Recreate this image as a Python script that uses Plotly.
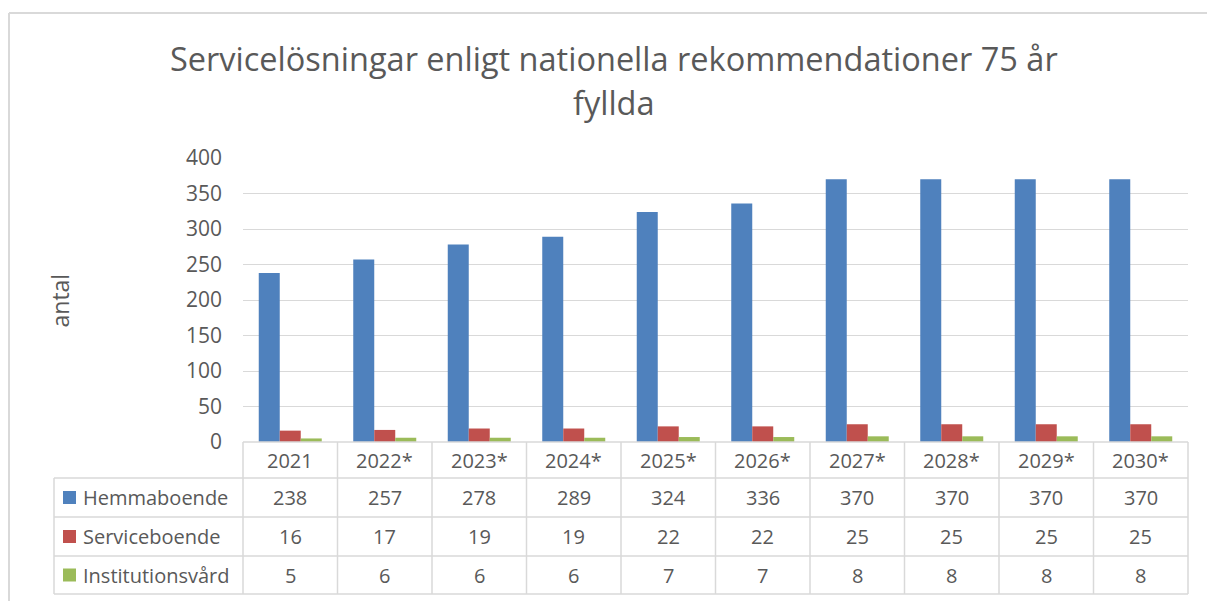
import plotly.graph_objects as go

years = ["2021", "2022*", "2023*", "2024*", "2025*", "2026*", "2027*", "2028*", "2029*", "2030*"]
series_names = ["Hemmaboende", "Serviceboende", "Institutionsvård"]
hemmaboende = [238, 257, 278, 289, 324, 336, 370, 370, 370, 370]
serviceboende = [16, 17, 19, 19, 22, 22, 25, 25, 25, 25]
institutionsvard = [5, 6, 6, 6, 7, 7, 8, 8, 8, 8]
colors = ["#4F81BD", "#C0504D", "#9BBB59"]

title_line1 = "Servicelösningar enligt nationella rekommendationer 75 år"
title_line2 = "fyllda"
y_title = "antal"

W, H = 1207, 601
L, R, T, B = 243, 1188, 158, 442
TXT = "#595959"
GRID = "#D9D9D9"
FONT = "Open Sans"


def px(xp):
    return (xp - L) / (R - L)


def py(yp):
    return (B - yp) / (B - T)


values = [hemmaboende, serviceboende, institutionsvard]
n = len(years)

fig = go.Figure()
for name, vals, col in zip(series_names, values, colors):
    fig.add_trace(go.Bar(x=years, y=vals, name=name, marker_color=col,
                         marker_line_width=0, showlegend=False))

shapes = []
annotations = []

# outer chart border (left & top)
shapes.append(dict(type="line", xref="paper", yref="paper", x0=px(9), x1=px(9),
                   y0=py(13), y1=py(610), line=dict(color=GRID, width=2)))
shapes.append(dict(type="line", xref="paper", yref="paper", x0=px(9), x1=px(1215),
                   y0=py(13), y1=py(13), line=dict(color=GRID, width=2)))

# data table grid
row_lines = [442, 478, 517, 556, 594]
for i, yl in enumerate(row_lines):
    x0 = L if i == 0 else 54
    shapes.append(dict(type="line", xref="paper", yref="paper", x0=px(x0), x1=1,
                       y0=py(yl), y1=py(yl), line=dict(color=GRID, width=1.5)))
for k in range(n + 1):
    shapes.append(dict(type="line", xref="paper", yref="paper", x0=k / n, x1=k / n,
                       y0=py(442), y1=py(594), line=dict(color=GRID, width=1.5)))
shapes.append(dict(type="line", xref="paper", yref="paper", x0=px(54), x1=px(54),
                   y0=py(478), y1=py(594), line=dict(color=GRID, width=1.5)))

header_y = 460
row_y = [497.5, 536.5, 575]
for i, yr in enumerate(years):
    annotations.append(dict(x=(i + 0.5) / n, y=py(header_y), xref="paper", yref="paper",
                            text=yr, showarrow=False, xanchor="center", yanchor="middle",
                            font=dict(family=FONT, size=20, color=TXT)))
for name, vals, col, yc in zip(series_names, values, colors, row_y):
    shapes.append(dict(type="rect", xref="paper", yref="paper", x0=px(63), x1=px(76),
                       y0=py(yc - 6.5), y1=py(yc + 6.5), fillcolor=col, line=dict(width=0)))
    annotations.append(dict(x=px(81), y=py(yc), xref="paper", yref="paper", text=name,
                            showarrow=False, xanchor="left", yanchor="middle",
                            font=dict(family=FONT, size=20, color=TXT)))
    for i, v in enumerate(vals):
        annotations.append(dict(x=(i + 0.5) / n, y=py(yc), xref="paper", yref="paper",
                                text=str(v), showarrow=False, xanchor="center",
                                yanchor="middle", font=dict(family=FONT, size=20, color=TXT)))

# title
annotations.append(dict(x=px(614), y=py(58), xref="paper", yref="paper", text=title_line1,
                        showarrow=False, xanchor="center", yanchor="middle",
                        font=dict(family=FONT, size=32.5, color=TXT)))
annotations.append(dict(x=px(614), y=py(103), xref="paper", yref="paper", text=title_line2,
                        showarrow=False, xanchor="center", yanchor="middle",
                        font=dict(family=FONT, size=32.5, color=TXT)))
# y axis title
annotations.append(dict(x=px(59), y=py(300.5), xref="paper", yref="paper", text=y_title,
                        showarrow=False, xanchor="center", yanchor="middle", textangle=-90,
                        font=dict(family=FONT, size=23, color=TXT)))

fig.update_layout(
    width=W, height=H,
    margin=dict(l=L, r=W - R, t=T, b=H - B, pad=0),
    paper_bgcolor="white", plot_bgcolor="white",
    barmode="group", bargap=1 / 3, bargroupgap=0,
    showlegend=False,
    shapes=shapes, annotations=annotations,
    font=dict(family=FONT, color=TXT),
    xaxis=dict(type="category", categoryorder="array", categoryarray=years,
               range=[-0.5, n - 0.5], showticklabels=False, showgrid=False,
               showline=False, zeroline=False, ticks=""),
    yaxis=dict(range=[0, 400], dtick=50, showgrid=True, gridcolor=GRID, gridwidth=1.3,
               zeroline=False, showline=False, ticks="", ticklabelstandoff=20,
               tickfont=dict(family=FONT, size=21, color=TXT)),
)

fig.write_html("out.html", config={"displayModeBar": False},
               post_script="document.body.style.margin='0';document.body.style.overflow='hidden';")
